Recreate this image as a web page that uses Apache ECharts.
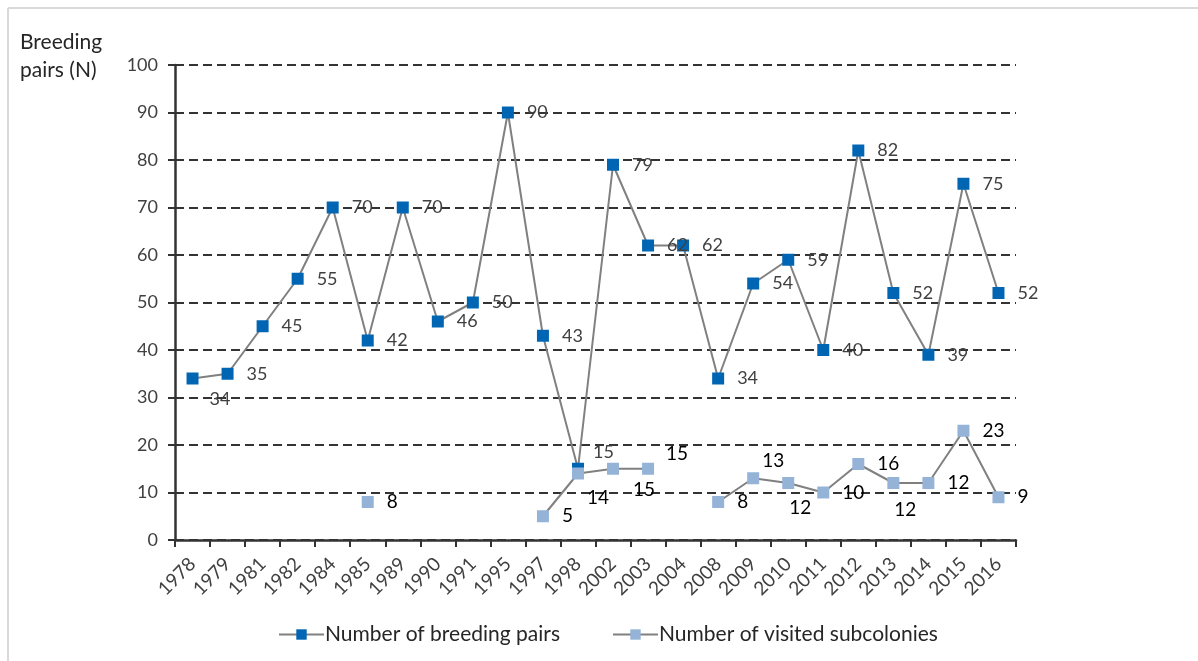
<!DOCTYPE html>
<html>
<head>
<meta charset="utf-8">
<script src="https://cdn.jsdelivr.net/npm/echarts@6/dist/echarts.min.js"></script>
<style>
html,body{margin:0;padding:0;background:#fff;}
#chart{width:1198px;height:661px;}
</style>
</head>
<body>
<div id="chart"></div>
<script>
const years = ['1978','1979','1981','1982','1984','1985','1989','1990','1991','1995','1997','1998','2002','2003','2004','2008','2009','2010','2011','2012','2013','2014','2015','2016'];
const breedingPairs = [34,35,45,55,70,42,70,46,50,90,43,15,79,62,62,34,54,59,40,82,52,39,75,52];
const visitedSubcolonies = [null,null,null,null,null,8,null,null,null,null,5,14,15,15,null,8,13,12,10,16,12,12,23,9];
const yTicks = {min:0, max:100, interval:10};

// label nudges (style only)
const breedingLabelOffsets = {0:[-2,21], 11:[-4,-17]};
const visitedLabelOffsets = {11:[-10,24], 12:[1,21], 13:[-1,-15], 16:[-10,-17], 17:[-18,25], 20:[-18,27]};

const FONT = 'Lato, "Open Sans", sans-serif';

function buildData(values, offsets){
  return values.map((v,i)=>{
    if (v === null) return null;
    const item = {value:v};
    if (offsets[i]) item.label = {offset:offsets[i]};
    return item;
  });
}

const chart = echarts.init(document.getElementById('chart'), null, {renderer:'canvas'});
chart.setOption({
  animation:false,
  backgroundColor:'#ffffff',
  title:{
    text:'Breeding\npairs (N)',
    left:15, top:23,
    textStyle:{fontFamily:FONT, fontSize:21, fontWeight:'normal', color:'#262626', lineHeight:28}
  },
  graphic:[
    {type:'line', shape:{x1:8,y1:8,x2:1198,y2:8}, style:{stroke:'#d9d9d9', lineWidth:2}},
    {type:'line', shape:{x1:8,y1:8,x2:8,y2:661}, style:{stroke:'#d9d9d9', lineWidth:2}}
  ],
  legend:{
    left:273, top:619,
    itemWidth:45, itemHeight:13, itemGap:52,
    textStyle:{fontFamily:FONT, fontSize:21, color:'#262626', padding:[0,0,0,-4]},
    data:['Number of breeding pairs','Number of visited subcolonies']
  },
  grid:{left:175, right:182, top:65, bottom:121, containLabel:false},
  xAxis:{
    type:'category',
    data:years,
    boundaryGap:true,
    axisLine:{lineStyle:{color:'#333333', width:2.5}},
    axisTick:{show:true, interval:0, length:7, lineStyle:{color:'#333333', width:2}},
    axisLabel:{interval:0, rotate:45, margin:21, fontFamily:FONT, fontSize:19, color:'#404040'},
    splitLine:{show:false}
  },
  yAxis:{
    type:'value',
    min:yTicks.min, max:yTicks.max, interval:yTicks.interval,
    axisLine:{show:true, lineStyle:{color:'#333333', width:2.5}},
    axisTick:{show:true, length:7, lineStyle:{color:'#333333', width:2}},
    axisLabel:{margin:17, fontFamily:FONT, fontSize:18, color:'#404040'},
    splitLine:{show:true, lineStyle:{color:'#333333', width:2, type:[9,5]}}
  },
  series:[
    {
      name:'Number of breeding pairs',
      type:'line',
      data:buildData(breedingPairs, breedingLabelOffsets),
      symbol:'rect', symbolSize:12,
      itemStyle:{color:'#0066b3'},
      lineStyle:{color:'#808080', width:2},
      label:{show:true, position:'right', distance:13, fontFamily:FONT, fontSize:18, color:'#404040'},
      z:3
    },
    {
      name:'Number of visited subcolonies',
      type:'line',
      data:buildData(visitedSubcolonies, visitedLabelOffsets),
      connectNulls:false,
      symbol:'rect', symbolSize:12,
      itemStyle:{color:'#95b3d7'},
      lineStyle:{color:'#808080', width:2},
      label:{show:true, position:'right', distance:13, fontFamily:FONT, fontSize:19, color:'#000000'},
      z:4
    }
  ]
});
</script>
</body>
</html>
